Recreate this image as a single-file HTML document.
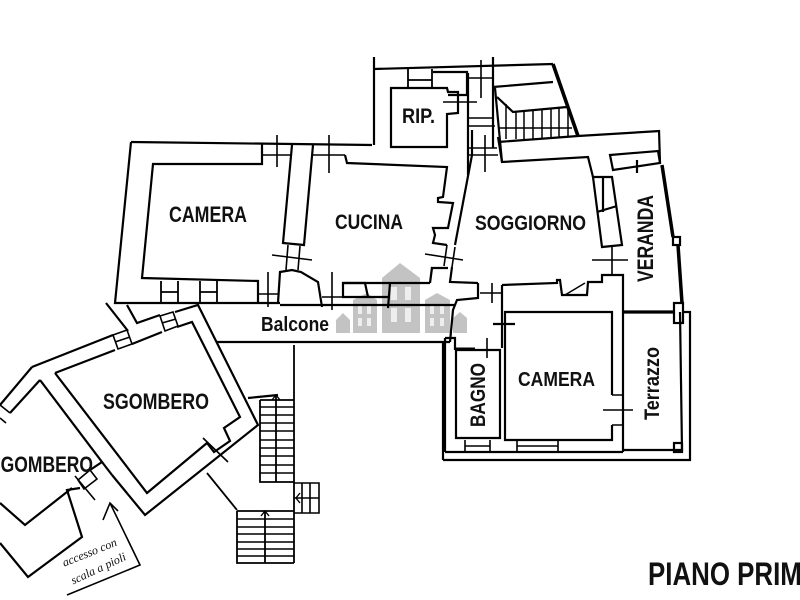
<!DOCTYPE html>
<html><head><meta charset="utf-8">
<style>
html,body{margin:0;padding:0;background:#fff;}
svg{display:block;}
text{font-family:"Liberation Sans",Arial,sans-serif;font-weight:bold;fill:#111;}
</style></head>
<body>
<svg width="800" height="600" viewBox="0 0 800 600" xmlns="http://www.w3.org/2000/svg">
<rect width="800" height="600" fill="#fff"/>

<!-- watermark -->
<g fill="#bdbdbd" opacity="0.9">
  <polygon points="382,278 400,263 420,278 420,333 382,333"/>
  <polygon points="353,300 367,293 377,300 377,333 353,333"/>
  <polygon points="336,320 343,313 350,320 350,333 336,333"/>
  <polygon points="425,300 437,293 450,300 450,333 425,333"/>
  <polygon points="453,318 460,312 467,318 467,333 453,333"/>
</g>
<g fill="#eeeeee">
  <rect x="391" y="287" width="6" height="13"/><rect x="405" y="287" width="6" height="13"/>
  <rect x="391" y="308" width="6" height="14"/><rect x="405" y="308" width="6" height="14"/>
  <rect x="358" y="306" width="4" height="8"/><rect x="367" y="306" width="4" height="8"/>
  <rect x="358" y="318" width="4" height="8"/><rect x="367" y="318" width="4" height="8"/>
  <rect x="430" y="306" width="4" height="8"/><rect x="440" y="306" width="4" height="8"/>
  <rect x="430" y="318" width="4" height="8"/><rect x="440" y="318" width="4" height="8"/>
</g>

<g fill="none" stroke="#000" stroke-width="2.2" stroke-linejoin="miter">
  <!-- left CAMERA -->
  <path d="M131,142 L372,145"/>
  <path d="M131,142 L115,303 L280,303"/>
  <path d="M262,144 L262,164 L153,164 L142,278 L258,281 L258,303"/>
  <path d="M161,281 V303 M178,281 V303 M200,281 V303 M217,281 V303 M161,292 H178 M200,292 H217" stroke-width="1.8"/>
  <path d="M268,272 V307 M258,294 H278" stroke-width="1.6"/>
  <path d="M278,303 L280,272 L292,270 L301,272 L318,282 L322,307"/>
  <!-- top doors -->
  <path d="M262,155 H292 M277,135 V167 M313,155 H345 M329,135 V173" stroke-width="1.6"/>
  <!-- strip camera/cucina -->
  <path d="M292,145 L283,243 L304,245 L313,145"/>
  <path d="M288,245 L286,270 M300,246 L298,270 M272,255 L312,260" stroke-width="1.6"/>
  <!-- CUCINA -->
  <path d="M345,155 L347,163 L447,167 L443,197 L438,198 L438,202 L453,203 L448,228 L433,228 L435,235 L433,243 L447,245"/>
  <path d="M447,245 L444,266 M455,247 L452,267 M425,254 L463,260" stroke-width="1.6"/>
  <path d="M472,130 L472,155 L455,245 M452,267 L450,282 L478,283"/>
  <path d="M432,267 L430,283 M430,283 L432,268 L448,268"/>
  <path d="M322,297 H342 M332,272 V310" stroke-width="1.6"/>
  <path d="M343,283 L365,283 L368,297 L343,297 Z M368,297 H388 M390,283 L388,308"/>
  <path d="M343,283 H430"/>
  <!-- Balcone -->
  <path d="M280,305 H455"/>
  <path d="M217,342 H450"/>
  <path d="M478,283 L478,298 L457,300 L453,310 L450,342"/>
  <path d="M480,293 H502 M492,283 V303" stroke-width="1.6"/>
  <!-- right CAMERA / BAGNO -->
  <path d="M502,285 L557,283 L557,280 L560,280 L562,295 L587,295 L588,282 L602,282 L602,275 L623,275 L623,452"/>
  <path d="M565,295 L585,283" stroke-width="1.4"/>
  <path d="M502,285 V348 M493,324 H515"/>
  <path d="M612,395 V312 H505 V440 H612 V425"/>
  <path d="M612,395 H622 M612,425 H622 M603,410 H633" stroke-width="1.6"/>
  <path d="M445,338 L455,338 L455,350 M443,342 V460 M445,338 V452"/>
  <path d="M456,350 H500 V438 H456 Z"/>
  <path d="M456,349 H475" stroke-width="3"/>
  <path d="M487,338 V358" stroke-width="1.6"/>
  <path d="M465,440 V452 M490,440 V452 M517,440 V452 M558,440 V452 M465,446 H490 M517,446 H558" stroke-width="1.6"/>
  <path d="M445,452 H623"/>
  <path d="M443,460 H690 V312 H683"/>
  <!-- Terrazzo -->
  <path d="M623,312 H673" stroke-width="3.2"/>
  <path d="M680,312 L682,450 H623"/>
  <rect x="674" y="443" width="8" height="9"/>
  <rect x="674" y="303" width="9" height="20"/>
  <!-- SOGGIORNO / VERANDA -->
  <path d="M498,137 L502,162 L588,157 L593,177"/>
  <path d="M593,177 H612 L622,245 L602,247 Z M603,177 V212 M597,212 L617,206"/>
  <path d="M612,247 V275 M592,260 H628" stroke-width="1.6"/>
  <path d="M610,155 L658,151 L660,163 L613,170 Z M637,160 V173"/>
  <path d="M659,130 L660,163"/>
  <path d="M662,165 L673,237 M678,245 L682,303" stroke-width="3.5"/>
  <rect x="673" y="237" width="7" height="8"/>
  <!-- stair top area -->
  <path d="M578,136 L660,131"/>
  <path d="M553,64 L578,136" stroke-width="3.6"/>
  <path d="M374,57 V145"/>
  <path d="M374,69 L553,64"/>
  <path d="M493,87 L553,82"/>
  <path d="M497,97 L513,112 L567,107"/>
  <path d="M506,104 V139 M516,112 V139 M524,112 V139 M533,111 V139 M542,110 V138 M551,109 V138 M559,108 V137 M568,107 V137 M498,128 H572" stroke-width="1.5"/>
  <path d="M498,142 L578,136"/>
  <path d="M495,88 L502,162"/>
  <path d="M493,57 V148"/>
  <path d="M468,73 V175"/>
  <path d="M468,78 H493 M468,118 H493 M468,126 H495 M468,148 H497 M468,155 H498" stroke-width="1.6"/>
  <path d="M481,60 V98 M485,135 V172" stroke-width="1.6"/>
  <!-- RIP -->
  <path d="M391,88 H447 L448,92 H458 V113 L447,114 V147 H391 Z"/>
  <path d="M408,69 V88 M432,69 V88 M408,80 H432" stroke-width="1.8"/>
  <path d="M433,72 H467 V95 H448"/>
  <path d="M458,97 V113 M468,97 V113 M443,102 H477" stroke-width="1.6"/>
  <!-- big SGOMBERO -->
  <path d="M32,367 L113,335 M128,331 L106,303"/>
  <path d="M113,335 L127,330 L132,344 L118,349 Z M115,342 L130,337" stroke-width="1.6"/>
  <path d="M127,305 L137,323 L160,315"/>
  <path d="M160,316 L173,312 L178,326 L165,331 Z M162,323 L176,319" stroke-width="1.6"/>
  <path d="M175,312 L198,305 L258,425 L145,515 L112,475"/>
  <path d="M55,373 L115,350 M132,344 L162,332 M177,327 L192,322 L240,417 L224,428 L230,441 L214,452 L207,443 L147,493 L55,373"/>
  <path d="M203,438 L228,462" stroke-width="1.6"/>
  <path d="M207,473 L237,510" stroke-width="1.8"/>
  <!-- small SGOMBERO -->
  <path d="M32,367 L0,405"/>
  <path d="M0,405 L10,413 M0,418 L6,423" stroke-width="1.6"/>
  <path d="M40,380 L10,413"/>
  <path d="M40,380 L102,462 L90,470"/>
  <path d="M78,480 L90,470 L97,479 L84,489 Z M75,476 L95,500" stroke-width="1.6"/>
  <path d="M72,488 L25,525 L0,503"/>
  <path d="M102,462 L112,475"/>
  <path d="M80,488 L67,490 L82,537 L28,577 L0,543"/>
  <!-- arrow -->
  <path d="M110,503 L140,565 L67,595" stroke-width="1.6"/>
  <path d="M103,520 L110,503 L118,511" stroke-width="1.6"/>
  <!-- stairs -->
  <path d="M294,345 V563" stroke-width="1.8"/>
  <path d="M248,398 L278,395"/>
  <path d="M260,400 H294 M260,400 V482 H294 M276,395 V482" stroke-width="1.8"/>
  <path d="M260,407 H294 M260,415 H294 M260,423 H294 M260,431 H294 M260,440 H294 M260,448 H294 M260,456 H294 M260,465 H294 M260,473 H294" stroke-width="1.5"/>
  <path d="M272,400 L276,395 L280,400" stroke-width="1.4"/>
  <path d="M294,483 H319 V513 H294 M302,483 V513 M310,483 V513 M294,498 H319" stroke-width="1.6"/>
  <path d="M300,493 L296,498 L300,503" stroke-width="1.4"/>
  <path d="M237,511 H294 M237,511 V563 H294 M265,511 V563" stroke-width="1.8"/>
  <path d="M237,519 H294 M237,527 H294 M237,534 H294 M237,542 H294 M237,549 H294 M237,556 H294" stroke-width="1.5"/>
  <path d="M261,516 L265,511 L269,516" stroke-width="1.4"/>
</g>

<!-- labels -->
<text x="169" y="222" font-size="22" textLength="78" lengthAdjust="spacingAndGlyphs">CAMERA</text>
<text x="335" y="229" font-size="21" textLength="68" lengthAdjust="spacingAndGlyphs">CUCINA</text>
<text x="475" y="230" font-size="21" textLength="111" lengthAdjust="spacingAndGlyphs">SOGGIORNO</text>
<text x="402" y="123" font-size="21" textLength="33" lengthAdjust="spacingAndGlyphs">RIP.</text>
<text x="261" y="331" font-size="20" textLength="68" lengthAdjust="spacingAndGlyphs" style="font-weight:bold">Balcone</text>
<text x="518" y="386" font-size="20" textLength="77" lengthAdjust="spacingAndGlyphs">CAMERA</text>
<text x="103" y="409" font-size="22" textLength="106" lengthAdjust="spacingAndGlyphs">SGOMBERO</text>
<text x="-11" y="472" font-size="22" textLength="104" lengthAdjust="spacingAndGlyphs">SGOMBERO</text>
<text transform="translate(653,282) rotate(-90)" x="0" y="0" font-size="22" textLength="87" lengthAdjust="spacingAndGlyphs">VERANDA</text>
<text transform="translate(485,427) rotate(-90)" x="0" y="0" font-size="21" textLength="64" lengthAdjust="spacingAndGlyphs">BAGNO</text>
<text transform="translate(659,420) rotate(-90)" x="0" y="0" font-size="21" textLength="73" lengthAdjust="spacingAndGlyphs">Terrazzo</text>
<text x="648" y="585" font-size="32" textLength="174" lengthAdjust="spacingAndGlyphs">PIANO PRIMO</text>
<text transform="translate(91,556) rotate(-22)" text-anchor="middle" font-size="12" style="font-family:'Liberation Serif',serif;font-style:italic;font-weight:normal">accesso con</text>
<text transform="translate(100,572) rotate(-25)" text-anchor="middle" font-size="12" style="font-family:'Liberation Serif',serif;font-style:italic;font-weight:normal">scala a pioli</text>
</svg>
</body></html>
